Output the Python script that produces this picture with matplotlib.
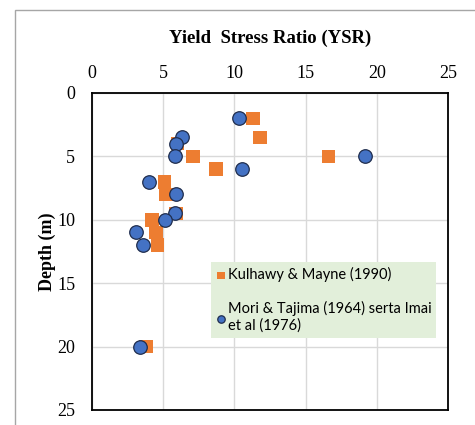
import matplotlib
matplotlib.use("Agg")
import matplotlib.pyplot as plt
from matplotlib.patches import Rectangle

# data: yield stress ratio vs depth
kulhawy_ysr = [11.3, 11.8, 6.0, 7.1, 16.6, 8.7, 5.1, 5.2, 5.9, 4.2, 4.5, 4.6, 3.8]
kulhawy_depth = [2, 3.5, 4, 5, 5, 6, 7, 8, 9.5, 10, 11, 12, 20]
mori_ysr = [10.3, 6.3, 5.9, 5.8, 19.2, 10.5, 4.0, 5.9, 5.8, 5.1, 3.1, 3.6, 3.4]
mori_depth = [2, 3.5, 4, 5, 5, 6, 7, 8, 9.5, 10, 11, 12, 20]

x_ticks = [0, 5, 10, 15, 20, 25]
y_ticks = [0, 5, 10, 15, 20, 25]

label_k = "Kulhawy & Mayne (1990)"
label_m = "Mori & Tajima (1964) serta Imai\net al (1976)"

serif = "Liberation Serif"

fig = plt.figure(figsize=(4.75, 4.25), dpi=100)
ax = fig.add_axes([0.1937, 0.0353, 0.7495, 0.7459])

# outer chart frame (cropped at right and bottom)
fig.patches.append(Rectangle((15 / 475, -0.1), 1.2, 1.076,
                             transform=fig.transFigure, fill=False,
                             edgecolor="#a6a6a6", linewidth=1.0))

ax.scatter(kulhawy_ysr, kulhawy_depth, marker="s", s=95, color="#ED7D31",
           edgecolors="none", label=label_k, zorder=3)
ax.scatter(mori_ysr, mori_depth, marker="o", s=95, color="#4472C4",
           edgecolors="#1f2d4d", linewidths=0.9, label=label_m, zorder=4)

ax.set_xlim(0, 25)
ax.set_ylim(25, 0)
ax.set_xticks(x_ticks)
ax.set_yticks(y_ticks)
ax.xaxis.tick_top()
ax.xaxis.set_label_position("top")
ax.tick_params(length=0, labelsize=13)
ax.tick_params(axis="x", pad=8)
ax.tick_params(axis="y", pad=12)
for lab in ax.get_xticklabels() + ax.get_yticklabels():
    lab.set_fontfamily(serif)

ax.grid(True, color="#d9d9d9", linewidth=1.0)
ax.set_axisbelow(True)
for sp in ax.spines.values():
    sp.set_color("black")
    sp.set_linewidth(1.3)

ax.set_xlabel("Yield  Stress Ratio (YSR)", fontfamily=serif, fontweight="bold",
              fontsize=13.5, labelpad=16)
ax.set_ylabel("Depth (m)", fontfamily=serif, fontweight="bold",
              fontsize=13, labelpad=1)

leg = ax.legend(loc="upper left", bbox_to_anchor=(0.334, 0.227, 0.632, 0.24),
                mode="expand", borderaxespad=0, frameon=True, fancybox=False,
                facecolor="#e2efda", edgecolor="none", framealpha=1,
                handletextpad=0.15, handlelength=0.7, labelspacing=1.3,
                markerscale=0.55, borderpad=0.35,
                prop={"family": "Lato", "size": 10.5})

fig.savefig("out.png", dpi=100)
